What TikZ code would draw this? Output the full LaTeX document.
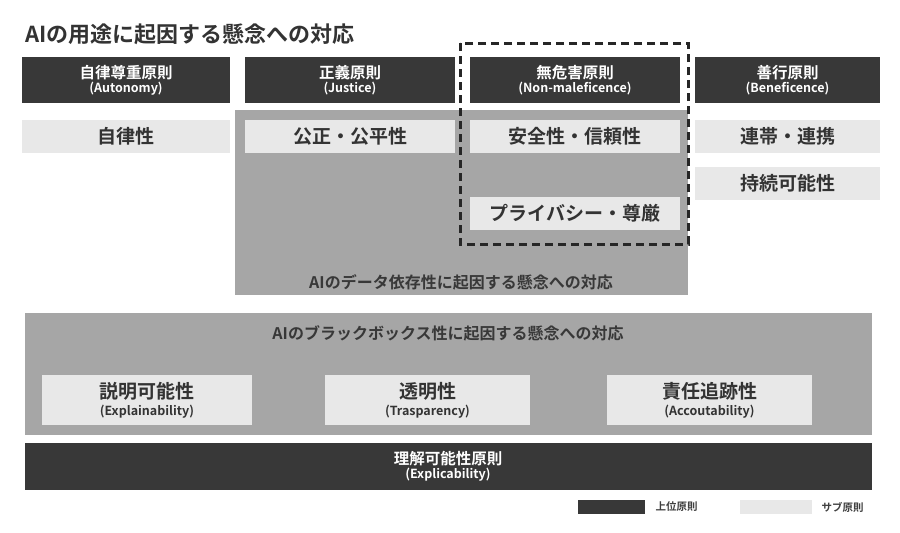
\documentclass[tikz,border=0pt]{standalone}
\usepackage{fontspec}
\setmainfont{Noto Sans CJK JP}[BoldFont={Noto Sans CJK JP Bold}]
\newcommand\subfnt{\bfseries\fontsize{12.5}{14}\selectfont}
\begin{document}
\begin{tikzpicture}[x=1pt,y=-1pt,
  dark/.style={fill=black!78,draw=none},
  light/.style={fill=black!9,draw=none},
  gray/.style={fill=black!35,draw=none},
  hd/.style={text=white,font=\bfseries\fontsize{15.5}{17}\selectfont,align=center},
  lt/.style={text=black!80,font=\bfseries\fontsize{19}{21}\selectfont,align=center},
  gl/.style={text=black!78,font=\bfseries\fontsize{16}{18}\selectfont}]
\useasboundingbox (0,0) rectangle (900,533);
\fill[white] (0,0) rectangle (900,533);
\node[anchor=west,font=\bfseries\fontsize{22}{25}\selectfont,text=black!80] (title) at (22,34) {AIの用途に起因する懸念への対応};
% gray regions
\fill[gray] (235,110) rectangle (688,295);
\node[gl] (dl) at (461,282) {AIのデータ依存性に起因する懸念への対応};
\fill[gray] (25,313) rectangle (872,435);
\node[gl] (bl) at (448,333) {AIのブラックボックス性に起因する懸念への対応};
% headers
\foreach \n/\a/\b/\t/\s in {h1/22/230/自律尊重原則/(Autonomy),h2/245/455/正義原則/(Justice),h3/470/680/無危害原則/(Non-maleficence),h4/695/880/善行原則/(Beneficence)}{
  \fill[dark] (\a,57) rectangle (\b,103);
  \node[hd] (\n) at ({(\a+\b)/2},80) {\t\\[-3pt]{\subfnt\s}};
}
% light boxes
\foreach \n/\a/\b/\y/\t in {l1/22/230/120/自律性,l2/245/455/120/公正・公平性,l3/470/680/120/安全性・信頼性,l4/470/680/197/プライバシー・尊厳,l5/695/880/120/連帯・連携,l6/695/880/167/持続可能性}{
  \fill[light] (\a,\y) rectangle (\b,\y+33);
  \node[lt] (\n) at ({(\a+\b)/2},\y+16.5) {\t};
}
\foreach \n/\a/\b/\t/\s in {e1/42/252/説明可能性/(Explainability),e2/325/530/透明性/(Trasparency),e3/607/812/責任追跡性/(Accoutability)}{
  \fill[light] (\a,375) rectangle (\b,425);
  \node[lt] (\n) at ({(\a+\b)/2},400) {\t\\[-4pt]{\subfnt\s}};
}
\fill[dark] (25,443) rectangle (872,490);
\node[hd] (ex) at (448,466) {理解可能性原則\\[-3pt]{\subfnt(Explicability)}};
\draw[black!85,line width=3pt,dash pattern=on 8pt off 5pt] (460,43) rectangle (688,244);
% legend
\fill[dark] (578,500) rectangle (645,514);
\node[anchor=west,font=\bfseries\fontsize{10.5}{12}\selectfont,text=black!75] (lg1) at (652,507) {上位原則};
\fill[light] (740,500) rectangle (812,514);
\node[anchor=west,font=\bfseries\fontsize{10.5}{12}\selectfont,text=black!75] (lg2) at (818,507) {サブ原則};
\end{tikzpicture}
\end{document}
